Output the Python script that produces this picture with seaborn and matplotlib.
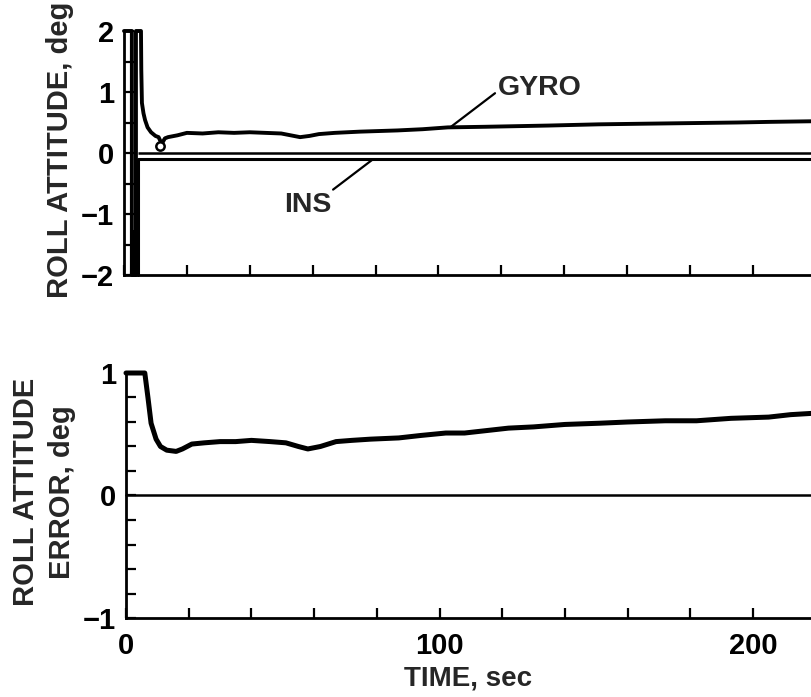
import matplotlib
matplotlib.use("Agg")
import matplotlib.pyplot as plt
import numpy as np
import seaborn as sns
import pandas as pd

# --- data ---
gyro_t = [0, 2.5, 2.5, 2.8, 3.0, 3.2, 3.4, 3.6, 3.8, 3.8, 5.4, 5.5, 5.7, 6.2, 6.7, 7.5,
          8.6, 10, 11, 12, 13, 14, 17, 20, 25, 30, 35, 40, 45, 50, 53, 56, 59, 62, 67,
          75, 87, 95, 103, 115, 125, 135, 151, 165, 180, 195, 205, 218.5]
gyro_y = [2, 2, -2, -1.3, -2, -1.4, -2, -1.5, -2, 2, 2, 1.36, 0.82, 0.65, 0.54, 0.42,
          0.34, 0.28, 0.26, 0.15, 0.24, 0.26, 0.29, 0.33, 0.32, 0.34, 0.33, 0.34, 0.33,
          0.32, 0.29, 0.26, 0.28, 0.31, 0.33, 0.35, 0.37, 0.39, 0.42, 0.43, 0.44, 0.45,
          0.47, 0.48, 0.49, 0.50, 0.51, 0.52]
ins_t = [4.5, 4.5, 218.5]
ins_y = [-2, -0.1, -0.1]

err_t = [0, 6, 7, 8, 9.6, 11, 13, 16, 18, 21, 25, 30, 35, 40, 46, 51, 55, 58, 62, 67,
         72, 78, 87, 94, 102, 108, 115, 122, 130, 140, 151, 160, 172, 182, 193, 205,
         212, 218.5]
err_y = [1, 1, 0.8, 0.59, 0.46, 0.40, 0.37, 0.36, 0.38, 0.42, 0.43, 0.44, 0.44, 0.45,
         0.44, 0.43, 0.40, 0.38, 0.40, 0.44, 0.45, 0.46, 0.47, 0.49, 0.51, 0.51, 0.53,
         0.55, 0.56, 0.58, 0.59, 0.60, 0.61, 0.61, 0.63, 0.64, 0.66, 0.67]

top_yticks = [-2, -1.5, -1, -0.5, 0, 0.5, 1, 1.5, 2]
bot_yticks = [-1, -0.8, -0.6, -0.4, -0.2, 0, 0.2, 0.4, 0.6, 0.8, 1]
x_ticks = list(range(0, 220, 20))
x_labels = {0: "0", 100: "100", 200: "200"}


def num(v):
    return f"{v:g}".replace("-", "\u2212")


sns.set_style("white")
plt.rcParams['font.family'] = ['Liberation Sans', 'DejaVu Sans']
plt.rcParams['font.weight'] = 'bold'

W, H = 811, 697
fig = plt.figure(figsize=(W / 100, H / 100), dpi=100)
ax1 = fig.add_axes([124 / W, 1 - 275 / H, 1 - 124 / W, 244 / H])
ax2 = fig.add_axes([126 / W, 1 - 618 / H, 1 - 126 / W, 245 / H])

sns.lineplot(x=gyro_t, y=gyro_y, ax=ax1, color='black', lw=2.8,
             estimator=None, sort=False)
sns.lineplot(x=ins_t, y=ins_y, ax=ax1, color='black', lw=2.2,
             estimator=None, sort=False)
ax1.hlines(0, 4.5, 218.5, color='black', lw=1.8)
ax1.plot([11.6], [0.12], marker='o', ms=6, mfc='white', mec='black', mew=1.8)

sns.lineplot(x=err_t, y=err_y, ax=ax2, color='black', lw=3.6,
             estimator=None, sort=False)
ax2.axhline(0, color='black', lw=1.8)

for ax in (ax1, ax2):
    ax.set_xlim(0, 218.5)
    sns.despine(ax=ax, top=True, right=True)
    for s in ('left', 'bottom'):
        ax.spines[s].set_linewidth(2)
        ax.spines[s].set_color('black')
    ax.set_xticks(x_ticks)
    ax.tick_params(direction='in', length=7, width=1.6, labelsize=21, colors='black',
                   bottom=True, left=True, top=False, right=False)
    ax.set_xlabel('')
    ax.set_ylabel('')
    for ln in ax.lines:
        ln.set_clip_on(False)

ax1.set_ylim(-2, 2)
ax1.set_yticks(top_yticks)
ax1.set_yticklabels([num(v) if v == int(v) else "" for v in top_yticks])
ax1.set_xticklabels([])
ax1.tick_params(axis='y', pad=7)

ax2.set_ylim(-1, 1)
ax2.set_yticks(bot_yticks)
ax2.set_yticklabels([num(v) if v in (-1, 0, 1) else "" for v in bot_yticks])
ax2.set_xticklabels([x_labels.get(v, "") for v in x_ticks])
ax2.tick_params(axis='y', pad=7)
ax2.tick_params(axis='x', pad=10)
ax2.set_xlabel('TIME, sec', fontsize=20, fontweight='bold', labelpad=4)

for lab in ax1.get_yticklabels() + ax2.get_yticklabels() + ax2.get_xticklabels():
    lab.set_fontweight('bold')

# annotations
ax1.text(119, 1.07, 'GYRO', fontsize=20.5, fontweight='bold', ha='left', va='center')
ax1.plot([118, 104], [0.98, 0.43], color='black', lw=1.6)
ax1.text(58.6, -0.85, 'INS', fontsize=20.5, fontweight='bold', ha='center', va='center')
ax1.plot([66.5, 79], [-0.6, -0.11], color='black', lw=1.6)

fig.text(60 / W, 1 - 150 / H, 'ROLL ATTITUDE, deg', rotation=90, fontsize=21,
         fontweight='bold', ha='center', va='center')
fig.text(44 / W, 1 - 492 / H, 'ROLL ATTITUDE\nERROR, deg', rotation=90, fontsize=21,
         fontweight='bold', ha='center', va='center', linespacing=1.4)

fig.savefig('out.png', dpi=100)
